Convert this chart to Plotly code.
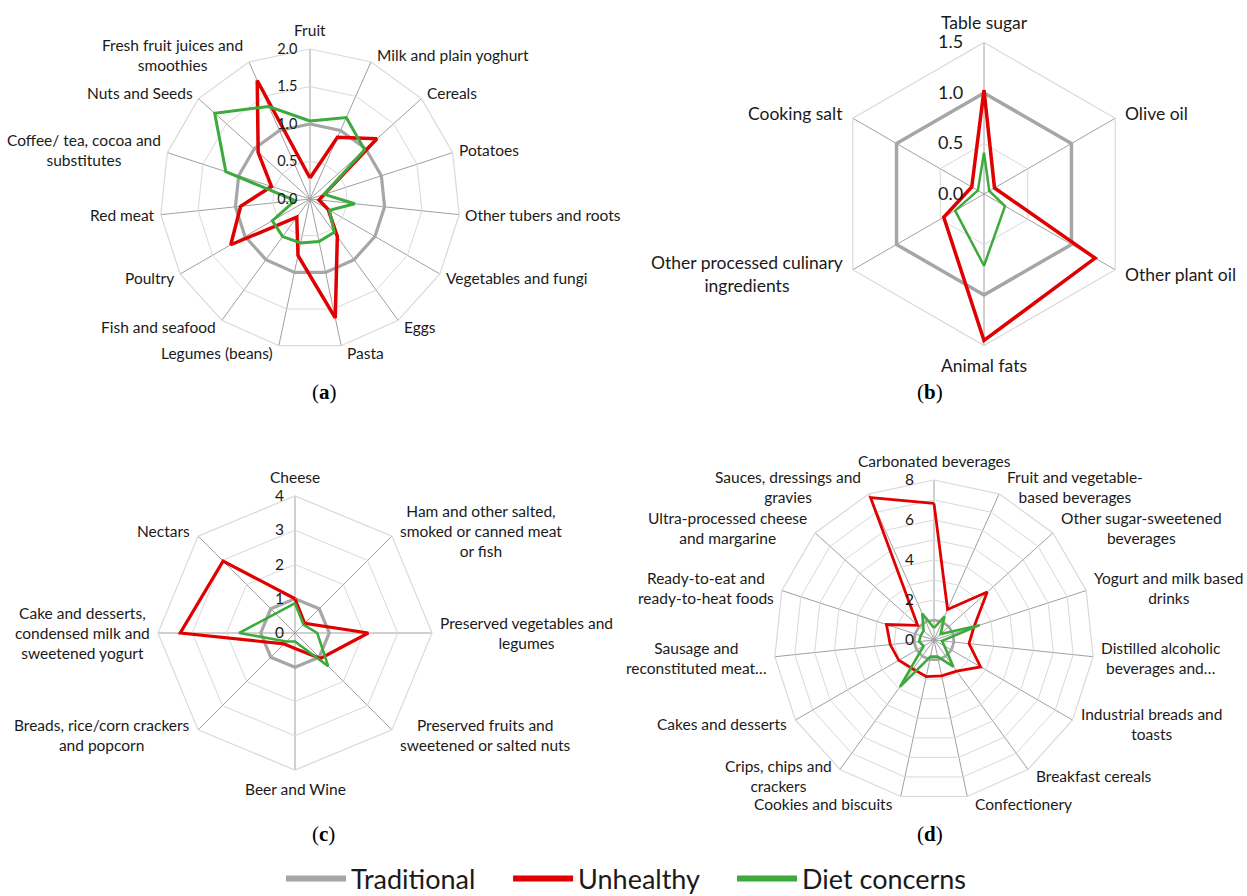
import math
import plotly.graph_objects as go

# ---------------- data ----------------
series_names = ["Traditional", "Unhealthy", "Diet concerns"]
series_colors = ["#a6a6a6", "#e00000", "#3caa3c"]

# (a) unprocessed / minimally processed foods
cats_a = ["Fruit", "Milk and plain yoghurt", "Cereals", "Potatoes", "Other tubers and roots",
          "Vegetables and fungi", "Eggs", "Pasta", "Legumes (beans)", "Fish and seafood",
          "Poultry", "Red meat", "Coffee/ tea, cocoa and substitutes", "Nuts and Seeds",
          "Fresh fruit juices and smoothies"]
labels_a = ["Fruit", "Milk and plain yoghurt", "Cereals", "Potatoes", "Other tubers and roots",
            "Vegetables and fungi", "Eggs", "Pasta", "Legumes (beans)", "Fish and seafood",
            "Poultry", "Red meat", "Coffee/ tea, cocoa and<br>substitutes", "Nuts and Seeds",
            "Fresh fruit juices and<br>smoothies"]
trad_a = [1.0] * 15
unhealthy_a = [0.28, 0.90, 1.20, 0.20, 0.12, 0.28, 0.62, 1.62, 0.77, 0.30, 1.22, 0.93, 0.54, 0.93, 1.73]
diet_a = [1.04, 1.19, 0.98, 0.20, 0.60, 0.30, 0.55, 0.58, 0.60, 0.62, 0.58, 0.20, 1.18, 1.71, 1.35]
ticks_a = [0, 0.5, 1.0, 1.5, 2.0]
ticktext_a = ["0.0", "0.5", "1.0", "1.5", "2.0"]

# (b) processed culinary ingredients
cats_b = ["Table sugar", "Olive oil", "Other plant oil", "Animal fats",
          "Other processed culinary ingredients", "Cooking salt"]
labels_b = ["Table sugar", "Olive oil", "Other plant oil", "Animal fats",
            "Other processed culinary<br>ingredients", "Cooking salt"]
trad_b = [1.0] * 6
unhealthy_b = [1.03, 0.12, 1.27, 1.45, 0.46, 0.14]
diet_b = [0.41, 0.06, 0.24, 0.71, 0.33, 0.07]
ticks_b = [0, 0.5, 1.0, 1.5]
ticktext_b = ["0.0", "0.5", "1.0", "1.5"]

# (c) processed foods
cats_c = ["Cheese", "Ham and other salted, smoked or canned meat or fish",
          "Preserved vegetables and legumes", "Preserved fruits and sweetened or salted nuts",
          "Beer and Wine", "Breads, rice/corn crackers and popcorn",
          "Cake and desserts, condensed milk and sweetened yogurt", "Nectars"]
labels_c = ["Cheese", "Ham and other salted,<br>smoked or canned meat<br>or fish",
            "Preserved vegetables and<br>legumes", "Preserved fruits and<br>sweetened or salted nuts",
            "Beer and Wine", "Breads, rice/corn crackers<br>and popcorn",
            "Cake and desserts,<br>condensed milk and<br>sweetened yogurt", "Nectars"]
trad_c = [1.0] * 8
unhealthy_c = [1.0, 0.40, 2.14, 1.05, 0.45, 0.45, 3.35, 2.97]
diet_c = [0.87, 0.35, 0.65, 1.37, 0.25, 0.35, 1.63, 0.80]
ticks_c = [0, 1, 2, 3, 4]
ticktext_c = ["0", "1", "2", "3", "4"]

# (d) ultra-processed foods
cats_d = ["Carbonated beverages", "Fruit and vegetable-based beverages",
          "Other sugar-sweetened beverages", "Yogurt and milk based drinks",
          "Distilled alcoholic beverages and...", "Industrial breads and toasts",
          "Breakfast cereals", "Confectionery", "Cookies and biscuits",
          "Crips, chips and crackers", "Cakes and desserts", "Sausage and reconstituted meat...",
          "Ready-to-eat and ready-to-heat foods", "Ultra-processed cheese and margarine",
          "Sauces, dressings and gravies"]
labels_d = ["Carbonated beverages", "Fruit and vegetable-<br>based beverages",
            "Other sugar-sweetened<br>beverages", "Yogurt and milk based<br>drinks",
            "Distilled alcoholic<br>beverages and…", "Industrial breads and<br>toasts",
            "Breakfast cereals", "Confectionery", "Cookies and biscuits",
            "Crips, chips and<br>crackers", "Cakes and desserts", "Sausage and<br>reconstituted meat…",
            "Ready-to-eat and<br>ready-to-heat foods", "Ultra-processed cheese<br>and margarine",
            "Sauces, dressings and<br>gravies"]
trad_d = [1.0] * 15
unhealthy_d = [6.83, 1.67, 3.58, 2.10, 1.76, 2.69, 1.93, 1.83, 1.87, 1.79, 2.03, 2.20, 2.50, 1.10, 7.80]
diet_d = [0.60, 1.30, 0.45, 2.40, 0.40, 0.60, 1.65, 0.85, 0.85, 2.90, 0.60, 0.75, 0.70, 0.70, 1.45]
ticks_d = [0, 1, 2, 3, 4, 5, 6, 7, 8]
ticktext_d = ["0", "", "2", "", "4", "", "6", "", "8"]

panel_letters = ["a", "b", "c", "d"]

# ---------------- layout geometry (pixels) ----------------
W, H = 1247, 896
# centre x, centre y (from top), outer radius
geom = [(310, 199, 150), (984, 194, 151.5), (295, 633, 137), (934, 640, 160)]
cat_sizes = [15.5, 17.5, 15.5, 15.5]
tick_sizes = [14.5, 18, 15.5, 15.5]
tick_offsets = [7, 14, 5, 14]
side_gaps = [4, 8, 6, 6]

FONT = "Lato"
TXT = "#1a1a1a"
NBSP = "\u00a0"

panels = [
    (cats_a, labels_a, [trad_a, unhealthy_a, diet_a], ticks_a, ticktext_a, [3.2, 3.5, 3.0]),
    (cats_b, labels_b, [trad_b, unhealthy_b, diet_b], ticks_b, ticktext_b, [3.5, 3.5, 2.5]),
    (cats_c, labels_c, [trad_c, unhealthy_c, diet_c], ticks_c, ticktext_c, [3.2, 3.2, 2.6]),
    (cats_d, labels_d, [trad_d, unhealthy_d, diet_d], ticks_d, ticktext_d, [2.8, 2.8, 2.6]),
]

fig = go.Figure()
layout_polars = {}
annotations = []

for i, (cats, labels, vals, tvals, ttext, widths) in enumerate(panels):
    pname = "polar" if i == 0 else f"polar{i + 1}"
    for s, (name, color) in enumerate(zip(series_names, series_colors)):
        r = list(vals[s]) + [vals[s][0]]
        th = list(cats) + [cats[0]]
        fig.add_trace(go.Scatterpolar(
            r=r, theta=th, mode="lines", name=name,
            line=dict(color=color, width=widths[s]),
            subplot=pname, showlegend=False, hoverinfo="skip"))
    cx, cy, R = geom[i]
    layout_polars[pname] = dict(
        domain=dict(x=[(cx - R) / W, (cx + R) / W],
                    y=[(H - cy - R) / H, (H - cy + R) / H]),
        gridshape="linear",
        bgcolor="white",
        angularaxis=dict(
            rotation=90, direction="clockwise",
            gridcolor="#a0a0a0", gridwidth=1,
            showline=True, linecolor="#d9d9d9", linewidth=1.2,
            ticks="", showticklabels=False),
        radialaxis=dict(
            range=[0, tvals[-1]], tickvals=tvals, ticktext=ttext,
            angle=90, side="counterclockwise", tickangle=90,
            showline=False, ticks="outside", ticklen=tick_offsets[i],
            tickcolor="rgba(0,0,0,0)",
            gridcolor="#d9d9d9", gridwidth=1.2,
            tickfont=dict(family=FONT, size=tick_sizes[i], color=TXT)),
    )

    # category names sit just outside each spoke end, spreadsheet style
    n = len(cats)
    half_line = cat_sizes[i] / 2
    for k, lab in enumerate(labels):
        ang = math.radians(360.0 * k / n)
        sx, cz = math.sin(ang), math.cos(ang)
        vx = cx + R * sx
        vy = cy - R * cz
        if abs(sx) < 0.05:
            xa, px = "center", vx
            py = vy - (half_line + 11.5) * cz
        elif sx > 0:
            xa, px = "left", vx + side_gaps[i]
            py = vy - half_line * cz
        else:
            xa, px = "right", vx - side_gaps[i]
            py = vy - half_line * cz
        annotations.append(dict(
            text=lab, x=px / W, y=1 - py / H, xref="paper", yref="paper",
            xanchor=xa, yanchor="middle", align="center", showarrow=False,
            font=dict(family=FONT, size=cat_sizes[i], color=TXT)))

# legend entries with thicker strokes; trailing spaces widen the gap between entries
legend_pad = [4, 4, 0]
for name, color, pad in zip(series_names, series_colors, legend_pad):
    fig.add_trace(go.Scatterpolar(r=[None], theta=[cats_a[0]], mode="lines",
                                  name=name + NBSP * pad,
                                  line=dict(color=color, width=6), subplot="polar",
                                  showlegend=True, hoverinfo="skip"))

label_pos = [(310, 392), (945, 392), (310, 848), (945, 848)]
for letter, (lx, ly) in zip(panel_letters, label_pos):
    annotations.append(dict(
        text=f"(<b>{letter}</b>)", x=lx / W, y=1 - ly / H, xref="paper", yref="paper",
        showarrow=False, font=dict(family="Liberation Serif", size=21, color="#000")))

fig.update_layout(
    width=W, height=H,
    margin=dict(l=0, r=0, t=0, b=0, autoexpand=False),
    paper_bgcolor="white",
    showlegend=True,
    legend=dict(orientation="h", x=281 / W, xanchor="left", y=17 / H, yanchor="middle",
                itemwidth=60, font=dict(family=FONT, size=27, color=TXT),
                bgcolor="rgba(0,0,0,0)", tracegroupgap=0),
    annotations=annotations,
    **layout_polars,
)

fig.write_html("out.html")
